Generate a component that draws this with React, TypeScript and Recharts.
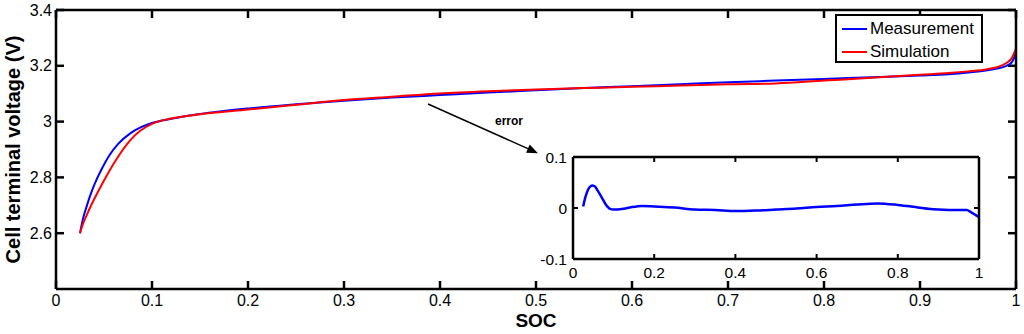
import { LineChart, Line, XAxis, YAxis, Legend, ReferenceLine, Label } from "recharts";

// main plot: cell voltage vs state of charge
const soc = [0.025, 0.028, 0.032, 0.037, 0.042, 0.048, 0.056, 0.065, 0.077, 0.088, 0.1, 0.12, 0.15, 0.2, 0.25, 0.3, 0.35, 0.4, 0.45, 0.5, 0.55, 0.6, 0.65, 0.7, 0.75, 0.8, 0.85, 0.9, 0.93, 0.95, 0.97, 0.98, 0.99, 0.995, 1.0];
const measured = [2.6, 2.65, 2.697, 2.748, 2.79, 2.833, 2.881, 2.921, 2.957, 2.979, 2.995, 3.01, 3.027, 3.047, 3.062, 3.075, 3.086, 3.095, 3.104, 3.112, 3.12, 3.127, 3.134, 3.141, 3.147, 3.153, 3.159, 3.165, 3.17, 3.176, 3.184, 3.19, 3.2, 3.21, 3.245];
const simulated = [2.6, 2.632, 2.665, 2.703, 2.737, 2.776, 2.826, 2.876, 2.932, 2.968, 2.992, 3.011, 3.026, 3.043, 3.06, 3.077, 3.089, 3.101, 3.109, 3.115, 3.12, 3.125, 3.129, 3.134, 3.137, 3.147, 3.157, 3.168, 3.174, 3.18, 3.188, 3.195, 3.21, 3.225, 3.262];

// inset: measurement minus simulation
const errorSoc = [0.025, 0.03, 0.035, 0.04, 0.047, 0.053, 0.06, 0.07, 0.08, 0.09, 0.1, 0.12, 0.14, 0.17, 0.2, 0.25, 0.3, 0.35, 0.4, 0.45, 0.5, 0.55, 0.6, 0.65, 0.7, 0.75, 0.8, 0.85, 0.88, 0.9, 0.95, 0.97, 0.98, 0.99, 1.0];
const errorValue = [0.003, 0.02, 0.032, 0.04, 0.044, 0.043, 0.035, 0.022, 0.008, -0.001, -0.003, -0.002, 0.001, 0.004, 0.003, 0.001, -0.003, -0.004, -0.006, -0.005, -0.003, -0.001, 0.002, 0.004, 0.007, 0.009, 0.006, 0.001, -0.002, -0.003, -0.004, -0.004, -0.008, -0.013, -0.018];

const socTicks = [0, 0.1, 0.2, 0.3, 0.4, 0.5, 0.6, 0.7, 0.8, 0.9, 1];
const voltageTicks = [2.6, 2.8, 3, 3.2, 3.4];
const voltageDomain = [2.4, 3.4];
const insetSocTicks = [0, 0.2, 0.4, 0.6, 0.8, 1];
const insetErrorTicks = [-0.1, 0, 0.1];
const errorDomain = [-0.1, 0.1];

// annotation arrow, in data units
const arrowStart = { x: 0.3875, y: 3.063 };
const arrowEnd = { x: 0.502, y: 2.887 };

const mainData = soc.map((s, i) => ({ soc: s, Measurement: measured[i], Simulation: simulated[i] }));
const errorData = errorSoc.map((s, i) => ({ soc: s, error: errorValue[i] }));

// labels only; the tick marks are drawn as short inward stubs below
const tickLabel = (side: string, fontSize: number, gap: number) => (props: any) => {
    const { x, y, payload } = props;
    const label = String(payload.value);
    if (side === "bottom") {
        return <text x={x} y={y + gap} dy="0.71em" textAnchor="middle" fontSize={fontSize} fill="#000">{label}</text>;
    }
    return <text x={x - gap} y={y} dy="0.355em" textAnchor="end" fontSize={fontSize} fill="#000">{label}</text>;
};

// matlab style ticks pointing into the box from both sides
const tickStubs = (len: number, sw: number) => (props: any) => {
    const { x1, y1, x2, y2 } = props;
    if ([x1, y1, x2, y2].some((v) => typeof v !== "number")) return <g />;
    const d = Math.hypot(x2 - x1, y2 - y1) || 1;
    const dx = ((x2 - x1) / d) * len;
    const dy = ((y2 - y1) / d) * len;
    return (
        <g>
            <line x1={x1} y1={y1} x2={x1 + dx} y2={y1 + dy} stroke="#000" strokeWidth={sw} />
            <line x1={x2} y1={y2} x2={x2 - dx} y2={y2 - dy} stroke="#000" strokeWidth={sw} />
        </g>
    );
};

const ErrorArrow = (props: any) => {
    const { x1, y1, x2, y2 } = props;
    const a = Math.atan2(y2 - y1, x2 - x1);
    const len = 11;
    const half = 4.5;
    const bx = x2 - len * Math.cos(a);
    const by = y2 - len * Math.sin(a);
    const pts = `${x2},${y2} ${bx - half * Math.sin(a)},${by + half * Math.cos(a)} ${bx + half * Math.sin(a)},${by - half * Math.cos(a)}`;
    return (
        <g>
            <line x1={x1} y1={y1} x2={bx} y2={by} stroke="#000" strokeWidth={1.5} />
            <polygon points={pts} fill="#000" />
            <text x={(x1 + x2) / 2 + 12} y={(y1 + y2) / 2 - 3.5} fontSize={12} fontWeight="bold" fill="#000">
                error
            </text>
        </g>
    );
};

const LegendBox = () => (
    <div
        style={{
            boxSizing: "border-box",
            width: 148,
            height: 49,
            border: "2px solid #000",
            background: "#fff",
            fontSize: 17,
            color: "#000",
        }}
    >
        {[["Measurement", "#0000ff"], ["Simulation", "#ff0000"]].map(([name, color]) => (
            <div key={name} style={{ height: 23, lineHeight: "23px", whiteSpace: "nowrap" }}>
                <span style={{ display: "inline-block", width: 25, height: 2, background: color, margin: "0 3px 0 5px", verticalAlign: "middle" }} />
                <span style={{ verticalAlign: "middle" }}>{name}</span>
            </div>
        ))}
    </div>
);

const frame = { stroke: "#000", strokeWidth: 2.5 };
const blank = () => "";
const mainStub = tickStubs(8, 2.5);
const insetStub = tickStubs(5, 2);

export default function App() {
    return (
        <div style={{ position: "absolute", left: 0, top: 0, width: 1024, height: 334, background: "#fff", fontFamily: "'Liberation Sans', Arial, sans-serif" }}>
            <LineChart width={1024} height={334} data={mainData} margin={{ top: 9, right: 7, bottom: 0, left: 0 }}>
                <XAxis dataKey="soc" type="number" domain={[0, 1]} ticks={socTicks} interval={0} height={45} stroke="#000"
                    tickSize={0} tickMargin={0} axisLine={frame} tickLine={false} tick={tickLabel("bottom", 16, 6)}>
                    <Label value="SOC" position="insideBottom" offset={7} style={{ fontWeight: "bold", fontSize: 19, fill: "#000" }} />
                </XAxis>
                <XAxis xAxisId="top" orientation="top" dataKey="soc" type="number" domain={[0, 1]} ticks={socTicks} interval={0} height={1} stroke="#000"
                    tickSize={0} tickMargin={0} axisLine={frame} tickLine={false} tickFormatter={blank} />
                <YAxis type="number" domain={voltageDomain} ticks={voltageTicks} interval={0} width={56} stroke="#000"
                    tickSize={0} tickMargin={0} axisLine={frame} tickLine={false} tick={tickLabel("left", 16, 4)}>
                    <Label
                        value="Cell terminal voltage (V)"
                        angle={-90}
                        position="insideLeft"
                        offset={13}
                        style={{ textAnchor: "middle", fontWeight: "bold", fontSize: 20, fill: "#000" }}
                    />
                </YAxis>
                <YAxis yAxisId="right" orientation="right" type="number" domain={voltageDomain} ticks={voltageTicks} interval={0} width={1} stroke="#000"
                    tickSize={0} tickMargin={0} axisLine={frame} tickLine={false} tickFormatter={blank} />
                {socTicks.map((t) => (
                    <ReferenceLine key={`x${t}`} segment={[{ x: t, y: voltageDomain[0] }, { x: t, y: voltageDomain[1] }]} shape={mainStub} ifOverflow="visible" />
                ))}
                {voltageTicks.map((t) => (
                    <ReferenceLine key={`y${t}`} segment={[{ x: 0, y: t }, { x: 1, y: t }]} shape={mainStub} ifOverflow="visible" />
                ))}
                <Legend
                    content={<LegendBox />}
                    layout="vertical"
                    align="center"
                    verticalAlign="middle"
                    wrapperStyle={{ top: 14, left: 835, width: 148, height: 49 }}
                />
                <ReferenceLine segment={[arrowStart, arrowEnd]} shape={ErrorArrow} />
                <Line dataKey="Measurement" type="monotone" stroke="#0000ff" strokeWidth={2} dot={false} isAnimationActive={false} />
                <Line dataKey="Simulation" type="monotone" stroke="#ff0000" strokeWidth={2} dot={false} isAnimationActive={false} />
            </LineChart>

            <div style={{ position: "absolute", left: 520, top: 147 }}>
                <LineChart width={469} height={142} data={errorData} margin={{ top: 9, right: 9, bottom: 0, left: 0 }}>
                    <XAxis dataKey="soc" type="number" domain={[0, 1]} ticks={insetSocTicks} interval={0} height={30} stroke="#000"
                        tickSize={0} tickMargin={0} axisLine={frame} tickLine={false} tick={tickLabel("bottom", 15.5, 8)} />
                    <XAxis xAxisId="top" orientation="top" dataKey="soc" type="number" domain={[0, 1]} ticks={insetSocTicks} interval={0} height={1} stroke="#000"
                        tickSize={0} tickMargin={0} axisLine={frame} tickLine={false} tickFormatter={blank} />
                    <YAxis type="number" domain={errorDomain} ticks={insetErrorTicks} interval={0} width={53} stroke="#000"
                        tickSize={0} tickMargin={0} axisLine={frame} tickLine={false} tick={tickLabel("left", 15.5, 6)} />
                    <YAxis yAxisId="right" orientation="right" type="number" domain={errorDomain} ticks={insetErrorTicks} interval={0} width={1} stroke="#000"
                        tickSize={0} tickMargin={0} axisLine={frame} tickLine={false} tickFormatter={blank} />
                    {insetSocTicks.map((t) => (
                        <ReferenceLine key={`x${t}`} segment={[{ x: t, y: errorDomain[0] }, { x: t, y: errorDomain[1] }]} shape={insetStub} ifOverflow="visible" />
                    ))}
                    {insetErrorTicks.map((t) => (
                        <ReferenceLine key={`y${t}`} segment={[{ x: 0, y: t }, { x: 1, y: t }]} shape={insetStub} ifOverflow="visible" />
                    ))}
                    <Line dataKey="error" type="monotone" stroke="#0000ff" strokeWidth={2.5} dot={false} isAnimationActive={false} />
                </LineChart>
            </div>
        </div>
    );
}
